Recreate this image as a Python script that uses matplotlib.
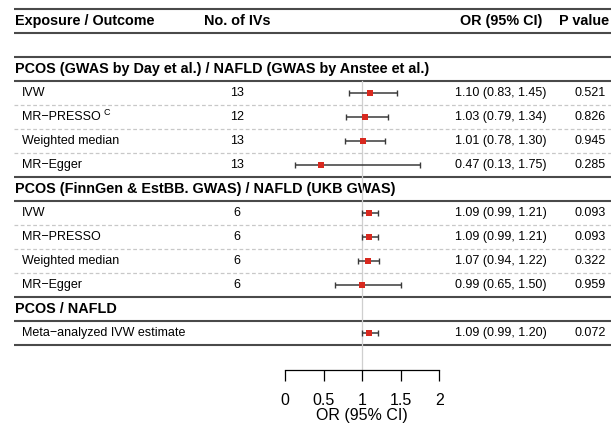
import matplotlib
matplotlib.use("Agg")
import matplotlib.pyplot as plt

plt.rcParams['font.family'] = ['Liberation Sans', 'DejaVu Sans']

# ---------------- data ----------------
col_headers = ["Exposure / Outcome", "No. of IVs", "OR (95% CI)", "P value"]
sections = ["PCOS (GWAS by Day et al.) / NAFLD (GWAS by Anstee et al.)",
            "PCOS (FinnGen & EstBB. GWAS) / NAFLD (UKB GWAS)",
            "PCOS / NAFLD"]
methods1 = ["IVW", "MR\u2212PRESSO", "Weighted median", "MR\u2212Egger"]
n_ivs1 = ["13", "12", "13", "13"]
or1 = [1.10, 1.03, 1.01, 0.47]
lo1 = [0.83, 0.79, 0.78, 0.13]
hi1 = [1.45, 1.34, 1.30, 1.75]
p1 = ["0.521", "0.826", "0.945", "0.285"]

methods2 = ["IVW", "MR\u2212PRESSO", "Weighted median", "MR\u2212Egger"]
n_ivs2 = ["6", "6", "6", "6"]
or2 = [1.09, 1.09, 1.07, 0.99]
lo2 = [0.99, 0.99, 0.94, 0.65]
hi2 = [1.21, 1.21, 1.22, 1.50]
p2 = ["0.093", "0.093", "0.322", "0.959"]

methods3 = ["Meta\u2212analyzed IVW estimate"]
n_ivs3 = [""]
or3 = [1.09]
lo3 = [0.99]
hi3 = [1.20]
p3 = ["0.072"]

superscripts = {(0, 1): "C"}
x_ticks = [0, 0.5, 1, 1.5, 2]
x_tick_labels = ["0", "0.5", "1", "1.5", "2"]
x_label = "OR (95% CI)"

# ---------------- layout ----------------
W, H = 611, 425
fig = plt.figure(figsize=(W / 100, H / 100), dpi=100)
bg = fig.add_axes([0, 0, 1, 1])
bg.set_xlim(0, W)
bg.set_ylim(H, 0)
bg.axis('off')

row_h = 24
def ry(k):
    return 21 + row_h * k

x_lab, x_sec, x_row = 15, 15, 22
x_niv, x_or, x_p_head, x_p = 237, 501, 559, 590
fs_body = 9.0
fs_head = 10.4
rule_col = '#4a4a4a'
dash_col = '#c8c8c8'
x0_line, x1_line = 14, W + 5

def solid(y):
    bg.plot([x0_line, x1_line], [y, y], color=rule_col, lw=1.5, solid_capstyle='butt')

def dashed(y):
    bg.plot([x0_line, x1_line], [y, y], color=dash_col, lw=0.9, dashes=(3, 2))

# header
bg.text(x_lab, ry(0), col_headers[0], fontsize=fs_head, fontweight='bold', va='center', ha='left')
bg.text(x_niv, ry(0), col_headers[1], fontsize=fs_head, fontweight='bold', va='center', ha='center')
bg.text(x_or, ry(0), col_headers[2], fontsize=fs_head, fontweight='bold', va='center', ha='center')
bg.text(x_p_head, ry(0), col_headers[3], fontsize=fs_head, fontweight='bold', va='center', ha='left')
solid(ry(0) - 12)
solid(ry(0) + 12)
solid(ry(1) + 12)

# forest axes: x in OR units, y in same row coordinates
ax_y_px = 369.5
fx0 = 285.3
fx_scale = 77.0
ax = fig.add_axes([fx0 / W, (H - ax_y_px) / H, 2 * fx_scale / W, ax_y_px / H])
ax.set_xlim(0, 2)
ax.set_ylim(ax_y_px, 0)
ax.patch.set_alpha(0)
for s in ['top', 'right', 'left']:
    ax.spines[s].set_visible(False)
ax.spines['bottom'].set_color('black')
ax.spines['bottom'].set_linewidth(0.9)
ax.set_yticks([])
ax.set_xticks(x_ticks)
ax.set_xticklabels(x_tick_labels, fontsize=11.5)
ax.tick_params(axis='x', direction='out', length=8, width=0.9, pad=9)
ax.set_xlabel(x_label, fontsize=11.5, labelpad=0)

groups = [
    (methods1, n_ivs1, or1, lo1, hi1, p1),
    (methods2, n_ivs2, or2, lo2, hi2, p2),
    (methods3, n_ivs3, or3, lo3, hi3, p3),
]

ref_top = None
k = 2
for gi, (meth, niv, orv, lo, hi, pv) in enumerate(groups):
    bg.text(x_sec, ry(k), sections[gi], fontsize=fs_head, fontweight='bold', va='center', ha='left')
    solid(ry(k) + 12)
    if ref_top is None:
        ref_top = ry(k) + 12
    k += 1
    ys = []
    for i in range(len(meth)):
        y = ry(k)
        ys.append(y)
        t = bg.text(x_row, y, meth[i], fontsize=fs_body, va='center', ha='left')
        if (gi, i) in superscripts:
            fig.canvas.draw()
            bb = t.get_window_extent()
            xr = bb.x1 + 3
            bg.text(xr, y - 5, superscripts[(gi, i)], fontsize=6.5, va='center', ha='left')
        bg.text(x_niv, y, niv[i], fontsize=fs_body, va='center', ha='center')
        bg.text(x_or, y, f"{orv[i]:.2f} ({lo[i]:.2f}, {hi[i]:.2f})", fontsize=fs_body, va='center', ha='center')
        bg.text(x_p, y, pv[i], fontsize=fs_body, va='center', ha='center')
        if i < len(meth) - 1:
            dashed(y + 12)
        else:
            solid(y + 12)
        k += 1
    xerr = [[o - l for o, l in zip(orv, lo)], [h - o for o, h in zip(orv, hi)]]
    ax.errorbar(orv, ys, xerr=xerr, fmt='none', ecolor='#3a3a3a', elinewidth=1.1,
                capsize=2.2, capthick=1.0, zorder=3)
    ax.plot(orv, ys, 's', color='#d8291f', markersize=4.6, markeredgewidth=0, zorder=4)

ax.plot([1, 1], [ref_top, ax_y_px], color='#cfcfcf', lw=0.9, zorder=1)

fig.savefig("out.png", dpi=100)
